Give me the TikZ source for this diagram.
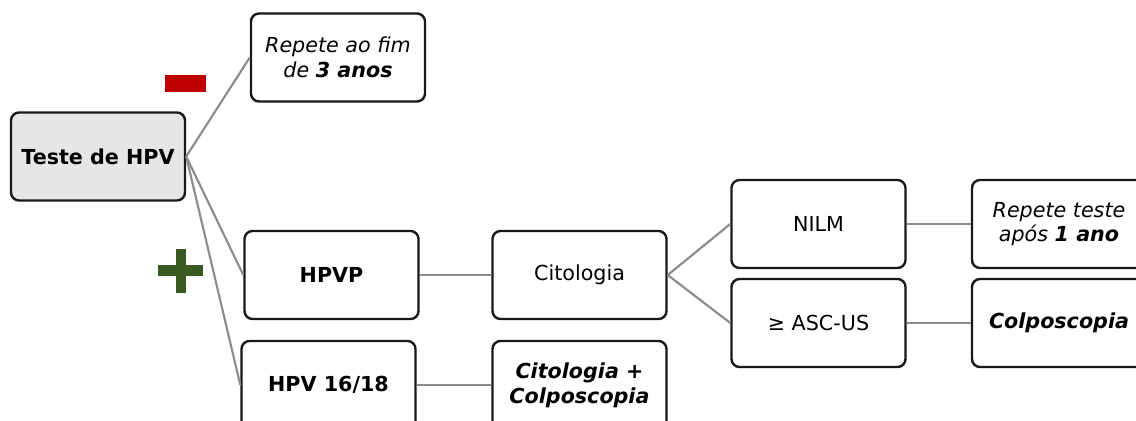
\documentclass[tikz,border=0pt]{standalone}
\usepackage{fontspec}
\setmainfont{DejaVu Sans}
\usepackage{tikz}
\usetikzlibrary{arrows.meta}

\definecolor{boxgray}{HTML}{E6E6E6}
\definecolor{linkgray}{HTML}{8C8C8C}
\definecolor{minusred}{HTML}{C00000}
\definecolor{plusgreen}{HTML}{3A5A22}

\begin{document}
\begin{tikzpicture}[x=0.75pt, y=-0.75pt,
    every node/.style={rectangle, rounded corners=6pt, draw=black!90, line width=1.8pt, fill=white,
      minimum width=130.5pt, minimum height=66pt, align=center,
      font=\fontsize{15.5pt}{18.5pt}\selectfont},
    link/.style={draw=linkgray, line width=1.6pt}]
        \useasboundingbox (0,0) rectangle (1136,421);

        \node[fill=boxgray] (hpv) at (98,156.5) {\textbf{Teste de HPV}};
        \node (neg) at (338,57.5) {\textit{Repete ao fim}\\ \textit{de \textbf{3 anos}}};
        \node (hpvp) at (331.5,275) {\textbf{HPVP}};
        \node (hpv1618) at (328.5,385) {\textbf{HPV 16/18}};
        \node (cito) at (579.5,275) {Citologia};
        \node (citocolpo) at (579.5,385) {\textbf{\textit{Citologia +}}\\ \textbf{\textit{Colposcopia}}};
        \node (nilm) at (818.5,224) {NILM};
        \node (ascus) at (818.5,323) {≥ ASC-US};
        \node (rep1) at (1059,224) {\textit{Repete teste}\\ \textit{após \textbf{1 ano}}};
        \node (colpo) at (1059,323) {\textbf{\textit{Colposcopia}}};

        % signs
        \fill[minusred] (165,75) rectangle (206,92);
        \fill[plusgreen] (158,265) rectangle (203,276);
        \fill[plusgreen] (176,249) rectangle (186,293);

        \draw[link] (hpv.east) to (neg.west);
        \draw[link] (hpv.east) to (hpvp.west);
        \draw[link] (hpv.east) to (hpv1618.west);
        \draw[link] (hpvp) to (cito);
        \draw[link] (hpv1618) to (citocolpo);
        \draw[link] (cito.east) to (nilm.west);
        \draw[link] (cito.east) to (ascus.west);
        \draw[link] (nilm) to (rep1);
        \draw[link] (ascus) to (colpo);
      \end{tikzpicture}
\end{document}
